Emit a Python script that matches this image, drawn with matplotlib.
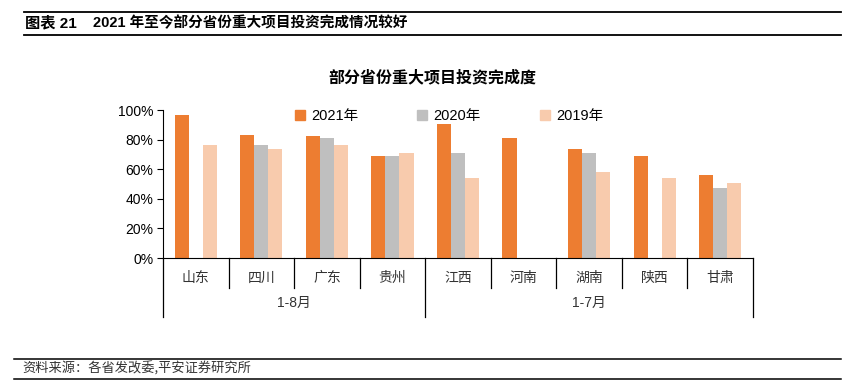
import matplotlib
matplotlib.use("Agg")
import matplotlib.pyplot as plt
import matplotlib.transforms as mtransforms
from matplotlib.lines import Line2D
from matplotlib.patches import Patch
from matplotlib.ticker import PercentFormatter
import numpy as np

plt.rcParams['font.family'] = ['Liberation Sans', 'Noto Sans CJK SC', 'DejaVu Sans']

# data (completion rate, %), None = no bar
provinces = ["山东", "四川", "广东", "贵州", "江西", "河南", "湖南", "陕西", "甘肃"]
series_names = ["2021年", "2020年", "2019年"]
y2021 = [96.5, 83, 82.5, 69, 90.5, 81, 73.5, 69, 56]
y2020 = [None, 76.5, 81, 69, 71, None, 71, None, 47.5]
y2019 = [76.5, 73.5, 76.5, 71, 54, None, 58, 54, 51]
groups = ["1-8月", "1-7月"]
group_sizes = [4, 5]

colors = ["#ED7D31", "#BFBFBF", "#F8CBAD"]

fig = plt.figure(figsize=(8.66, 3.91), dpi=100)
ax = fig.add_axes([163 / 866, 1 - 258 / 391, 590 / 866, 148 / 391])

x = np.arange(len(provinces))
w = 0.215
for k, vals in enumerate([y2021, y2020, y2019]):
    xs = [xi + (k - 1) * w for xi, v in zip(x, vals) if v is not None]
    hs = [v for v in vals if v is not None]
    ax.bar(xs, hs, width=w, color=colors[k], linewidth=0)

ax.set_xlim(-0.5, len(provinces) - 0.5)
ax.set_ylim(0, 100)
ax.set_yticks(np.arange(0, 101, 20))
ax.yaxis.set_major_formatter(PercentFormatter(decimals=0))
ax.tick_params(axis='y', length=4, width=0.8, labelsize=10, pad=3, colors='black')
ax.tick_params(axis='x', length=0, labelbottom=False)
for s in ["top", "right"]:
    ax.spines[s].set_visible(False)
ax.spines["left"].set_linewidth(0.8)
ax.spines["bottom"].set_linewidth(0.8)

# category separators and labels below the axis
trans = mtransforms.blended_transform_factory(ax.transData, ax.transAxes)
px = 1 / 148  # one pixel in axes fraction (vertical)
outer = {-0.5, len(provinces) - 0.5, -0.5 + group_sizes[0]}
for b in np.arange(-0.5, len(provinces), 1.0):
    depth = 59 if b in outer else 30
    ax.plot([b, b], [0, -depth * px], color='black', lw=0.9,
            transform=trans, clip_on=False)
for xi, name in zip(x, provinces):
    ax.text(xi, -20 * px, name, transform=trans, ha='center', va='center',
            fontsize=10, color='#333333', family=['Noto Sans CJK SC'])
start = 0
for g, n in zip(groups, group_sizes):
    ax.text(start + (n - 1) / 2, -45 * px, g, transform=trans, ha='center',
            va='center', fontsize=10, color='#333333',
            family=['Liberation Sans', 'Noto Sans CJK SC'])
    start += n

# chart title and legend
fig.text(432 / 866, 1 - 77 / 391, "部分省份重大项目投资完成度", ha='center', va='center',
         fontsize=11.5, fontweight='bold', family=['Noto Sans CJK SC'])
handles = [Patch(color=c, label=n) for c, n in zip(colors, series_names)]
fig.legend(handles=handles, loc='center', bbox_to_anchor=(449 / 866, 1 - 116 / 391),
           ncol=3, frameon=False, fontsize=10.5, handlelength=0.7, handleheight=0.7,
           handletextpad=0.4, columnspacing=4.05)

# report header / footer
def hline(y_px, x0=24, x1=841, lw=1.3):
    fig.add_artist(Line2D([x0 / 866, x1 / 866], [1 - y_px / 391] * 2,
                          color='black', lw=lw, transform=fig.transFigure))

hline(12)
hline(35)
fig.text(25 / 866, 1 - 23 / 391, "图表 21", ha='left', va='center', fontsize=11,
         fontweight='bold', family=['Liberation Sans', 'Noto Sans CJK SC'])
fig.text(93 / 866, 1 - 23 / 391, "2021 年至今部分省份重大项目投资完成情况较好",
         ha='left', va='center', fontsize=10.5, fontweight='bold',
         family=['Liberation Sans', 'Noto Sans CJK SC'])

hline(359, x0=14, lw=1.1)
hline(379, x0=14, lw=1.1)
fig.text(22 / 866, 1 - 369 / 391, "资料来源：各省发改委,平安证券研究所", ha='left', va='center',
         fontsize=9.5, color='#333333', style='italic',
         family=['Noto Sans CJK SC'])

fig.savefig("out.png", dpi=100)
